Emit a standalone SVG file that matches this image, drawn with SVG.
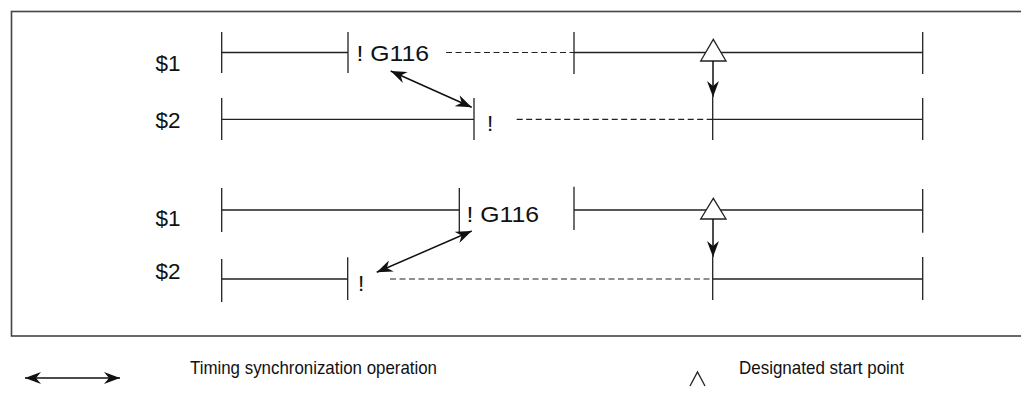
<svg xmlns="http://www.w3.org/2000/svg" width="1021" height="396" viewBox="0 0 1021 396">
<style>
.ln{stroke:#222;stroke-width:1.3;fill:none}
.ds{stroke:#222;stroke-width:1.2;fill:none;stroke-dasharray:6,3.5}
.t{font-family:"Liberation Sans",Arial,sans-serif;font-size:22.5px;fill:#111}
.lg{font-family:"Liberation Sans",Arial,sans-serif;font-size:18.5px;fill:#111}
.tri{fill:#fff;stroke:#222;stroke-width:1.3}
.ar{stroke:#111;stroke-width:1.5;fill:none}
</style>
<defs>
<marker id="ah" viewBox="0 0 16 12" refX="16" refY="6" markerWidth="16" markerHeight="12" markerUnits="userSpaceOnUse" orient="auto-start-reverse">
<path d="M0,0 L16,6 L0,12 L5,6 Z" fill="#111"/>
</marker>
</defs>
<rect x="11.5" y="11.5" width="1030" height="324.5" fill="none" stroke="#444" stroke-width="1.6"/>
<g id="top-s1">
<text class="t" x="155.5" y="71">$1</text>
<path class="ln" d="M221.7,32V73 M221.7,52.5H348 M348,32V73"/>
<text class="t" x="356.5" y="61" textLength="72.5" lengthAdjust="spacingAndGlyphs">! G116</text>
<path class="ds" d="M446,52.5H574"/>
<path class="ln" d="M574,32V74 M574,52.5H922.7 M922.7,32V74"/>
<polygon class="tri" points="713.3,39.3 700.7,61 726,61"/>
</g>
<g id="top-s2">
<text class="t" x="155.5" y="127.5">$2</text>
<path class="ln" d="M221.7,98V140 M221.7,119.3H474 M474,98V140"/>
<text class="t" x="487" y="131">!</text>
<path class="ds" d="M516.7,119.3H712.7"/>
<path class="ln" d="M712.7,97V140 M712.7,119.3H922.7 M922.7,98V140"/>
</g>
<g id="bottom-s1">
<text class="t" x="155.5" y="226">$1</text>
<path class="ln" d="M221.7,188V232 M221.7,210H459.3 M459.3,188V232"/>
<text class="t" x="466.5" y="222" textLength="72.5" lengthAdjust="spacingAndGlyphs">! G116</text>
<path class="ln" d="M574,186.7V230 M574,210H922.7 M922.7,189V232.7"/>
<polygon class="tri" points="713.3,198.3 700.7,219 726,219"/>
</g>
<g id="bottom-s2">
<text class="t" x="155.5" y="278.5">$2</text>
<path class="ln" d="M221.7,259V302 M221.7,279H347.7 M347.7,257.3V300"/>
<text class="t" x="358" y="291">!</text>
<path class="ds" d="M390,279H712.7"/>
<path class="ln" d="M712.7,257V300 M712.7,279H922.7 M922.7,257V300"/>
</g>
<g id="connectors">
<line class="ar" x1="390.7" y1="71" x2="471.7" y2="107.3" marker-start="url(#ah)" marker-end="url(#ah)"/>
<line class="ar" x1="376.7" y1="272.3" x2="471.7" y2="231" marker-start="url(#ah)" marker-end="url(#ah)"/>
<line class="ar" x1="713" y1="61" x2="713" y2="97" marker-end="url(#ah)"/>
<line class="ar" x1="713" y1="219" x2="713" y2="257" marker-end="url(#ah)"/>
</g>
<g id="legend">
<line class="ar" x1="25" y1="378" x2="120" y2="378" marker-start="url(#ah)" marker-end="url(#ah)"/>
<text class="lg" x="190" y="374" textLength="247" lengthAdjust="spacingAndGlyphs">Timing synchronization operation</text>
<path class="ln" d="M690,386L697.5,372L705,386"/>
<text class="lg" x="739" y="374" textLength="165" lengthAdjust="spacingAndGlyphs">Designated start point</text>
</g>
</svg>
